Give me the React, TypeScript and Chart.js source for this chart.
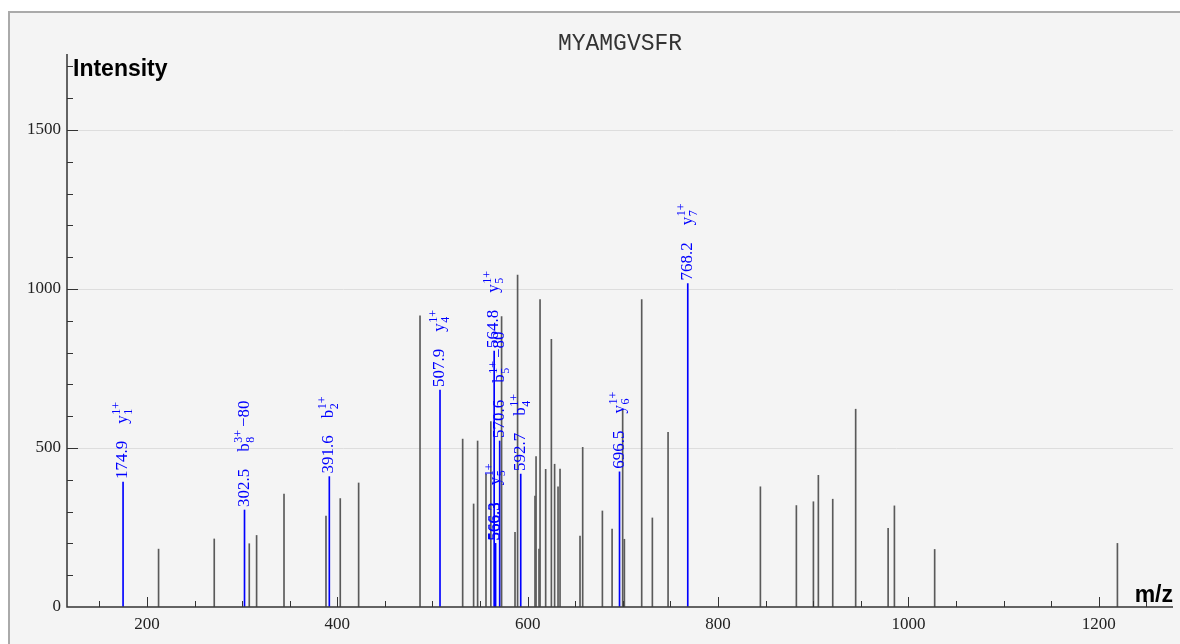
import React, { useEffect, useRef } from 'react';
import { Chart, registerables } from 'chart.js';

Chart.register(...registerables);

const TITLE = 'MYAMGVSFR';

const grayMz = [
  212.2, 270.7, 307.5, 315.2, 344.0, 388.1, 403.1, 422.4, 486.9, 531.7,
  543.2, 547.4, 556.2, 561.3, 572.6, 586.7, 589.4, 607.7, 608.8, 611.9,
  613.0, 618.9, 624.9, 628.3, 631.9, 634.0, 655.0, 657.8, 678.5, 688.7,
  699.8, 701.6, 719.8, 731.0, 747.5, 844.5, 882.3, 900.2, 905.4, 920.5,
  944.6, 978.7, 985.3, 1027.6, 1219.6,
];
const grayIntensity = [
  182, 214, 199, 225, 355, 286, 341, 390, 916, 528,
  324, 522, 418, 583, 913, 235, 1044, 349, 473, 182,
  967, 433, 842, 449, 378, 434, 223, 502, 302, 245,
  622, 213, 967, 280, 549, 378, 319, 331, 414, 339,
  622, 247, 318, 181, 200,
];

const matchedMz = [174.9, 302.5, 391.6, 507.9, 564.8, 565.6, 566.3, 570.6, 592.7, 696.5, 768.2];
const matchedIntensity = [393, 305, 410, 682, 805, 200, 200, 522, 418, 425, 1017];
const matchedLabels = ['174.9', '302.5', '391.6', '507.9', '564.8', '566.3', '566.3', '570.6', '592.7', '696.5', '768.2'];
const ionLetters = ['y', 'b', 'b', 'y', 'y', '', 'y', 'b', 'b', 'y', 'y'];
const ionIndex = ['1', '8', '2', '4', '5', '', '5', '5', '4', '6', '7'];
const ionCharge = ['1+', '3+', '1+', '1+', '1+', '', '1+', '1+', '1+', '1+', '1+'];
const ionSuffix = ['', '\u221280', '', '', '', '', '', '\u221280', '', '', ''];

const xLabelTicks = [200, 400, 600, 800, 1000, 1200];
const yLabelTicks = [0, 500, 1000, 1500];
const X_MIN = 116;
const X_MAX = 1278;
const Y_MAX = 1739;

const SERIF = '"Liberation Serif", "DejaVu Serif", serif';

const spectrumPlugin = {
  id: 'spectrumDecor',
  afterDatasetsDraw(chart: any) {
    const { ctx, chartArea, scales } = chart;
    const xs = scales.x;
    const ys = scales.y;
    ctx.save();
    // axes
    ctx.strokeStyle = '#333';
    ctx.lineWidth = 1.5;
    ctx.beginPath();
    ctx.moveTo(chartArea.left, chartArea.top);
    ctx.lineTo(chartArea.left, chartArea.bottom);
    ctx.lineTo(chartArea.right, chartArea.bottom);
    ctx.stroke();
    // x ticks
    ctx.lineWidth = 1;
    ctx.beginPath();
    for (let v = 150; v <= 1250; v += 50) {
      const px = Math.round(xs.getPixelForValue(v)) + 0.5;
      const len = v % 200 === 0 ? 10 : 6;
      ctx.moveTo(px, chartArea.bottom);
      ctx.lineTo(px, chartArea.bottom - len);
    }
    // y ticks
    for (let v = 100; v <= 1700; v += 100) {
      const py = Math.round(ys.getPixelForValue(v)) + 0.5;
      const len = v % 500 === 0 ? 11 : 6;
      ctx.moveTo(chartArea.left, py);
      ctx.lineTo(chartArea.left + len, py);
    }
    ctx.stroke();

    // annotations
    ctx.fillStyle = '#0000ff';
    ctx.textAlign = 'left';
    ctx.textBaseline = 'alphabetic';
    matchedMz.forEach((mz, i) => {
      const px = xs.getPixelForValue(mz);
      const py = ys.getPixelForValue(matchedIntensity[i]);
      ctx.save();
      ctx.translate(px, py - 3);
      ctx.rotate(-Math.PI / 2);
      ctx.font = '17px ' + SERIF;
      ctx.fillText(matchedLabels[i], 0, 4);
      let cx = ctx.measureText(matchedLabels[i]).width + 17;
      if (ionLetters[i]) {
        ctx.fillText(ionLetters[i], cx, 4);
        cx += ctx.measureText(ionLetters[i]).width + 0.5;
        ctx.font = '12px ' + SERIF;
        ctx.fillText(ionCharge[i], cx, -3);
        ctx.fillText(ionIndex[i], cx, 9);
        cx += Math.max(ctx.measureText(ionCharge[i]).width, ctx.measureText(ionIndex[i]).width) + 3;
        if (ionSuffix[i]) {
          ctx.font = '17px ' + SERIF;
          ctx.fillText(ionSuffix[i], cx, 4);
        }
      }
      ctx.restore();
    });
    ctx.restore();
  },
  afterDraw(chart: any) {
    const { ctx, chartArea } = chart;
    ctx.save();
    ctx.fillStyle = '#333';
    ctx.textBaseline = 'alphabetic';
    ctx.textAlign = 'center';
    ctx.font = '23px "Liberation Mono", "DejaVu Sans Mono", monospace';
    ctx.fillText(TITLE, (chartArea.left + chartArea.right) / 2, 37);
    ctx.fillStyle = '#000';
    ctx.textAlign = 'left';
    ctx.font = 'bold 23px "Liberation Sans", Arial, sans-serif';
    ctx.fillText('Intensity', chartArea.left + 6, 63);
    ctx.textAlign = 'right';
    ctx.fillText('m/z', chartArea.right, chartArea.bottom - 5);
    ctx.restore();
  },
};

export default function App() {
  const canvasRef = useRef<HTMLCanvasElement | null>(null);

  useEffect(() => {
    if (!canvasRef.current) return;
    const chart = new Chart(canvasRef.current, {
      type: 'bar',
      data: {
        datasets: [
          {
            data: grayMz.map((m, i) => ({ x: m, y: grayIntensity[i] })),
            backgroundColor: '#5a5a5a',
            borderWidth: 0,
            barThickness: 1,
            grouped: false,
          } as any,
          {
            data: matchedMz.map((m, i) => ({ x: m, y: matchedIntensity[i] })),
            backgroundColor: '#0000ff',
            borderWidth: 0,
            barThickness: 1,
            grouped: false,
          } as any,
        ],
      },
      options: {
        animation: false,
        responsive: false,
        maintainAspectRatio: false,
        layout: { padding: { top: 41, right: 7, left: 0, bottom: 0 } },
        plugins: {
          legend: { display: false },
          tooltip: { enabled: false },
          title: { display: false },
        },
        scales: {
          x: {
            type: 'linear',
            min: X_MIN,
            max: X_MAX,
            offset: false,
            grid: { display: false, drawTicks: false },
            border: { display: false },
            afterBuildTicks: (s: any) => {
              s.ticks = xLabelTicks.map((v) => ({ value: v }));
            },
            ticks: {
              autoSkip: false,
              maxRotation: 0,
              minRotation: 0,
              padding: 7,
              color: '#222',
              font: { family: 'Liberation Serif', size: 17 },
              callback: (v: any) => String(v),
            },
            afterFit: (s: any) => {
              s.height = 37;
            },
          },
          y: {
            type: 'linear',
            min: 0,
            max: Y_MAX,
            afterBuildTicks: (s: any) => {
              s.ticks = yLabelTicks.map((v) => ({ value: v }));
            },
            grid: {
              drawTicks: false,
              lineWidth: 1,
              color: (c: any) => (c.tick && c.tick.value > 0 ? '#dddddd' : 'rgba(0,0,0,0)'),
            },
            border: { display: false },
            ticks: {
              autoSkip: false,
              padding: 6,
              color: '#222',
              font: { family: 'Liberation Serif', size: 17 },
              callback: (v: any) => String(v),
            },
            afterFit: (s: any) => {
              s.width = 57;
            },
          },
        },
      } as any,
      plugins: [spectrumPlugin],
    });
    return () => chart.destroy();
  }, []);

  return (
    <div
      style={{
        position: 'fixed',
        left: 8,
        top: 11,
        width: 1172,
        height: 633,
        boxSizing: 'border-box',
        borderTop: '2px solid #aaaaaa',
        borderLeft: '2px solid #aaaaaa',
        background: '#f4f4f4',
        overflow: 'hidden',
      }}
    >
      <canvas ref={canvasRef} width={1170} height={631} style={{ display: 'block' }} />
    </div>
  );
}
